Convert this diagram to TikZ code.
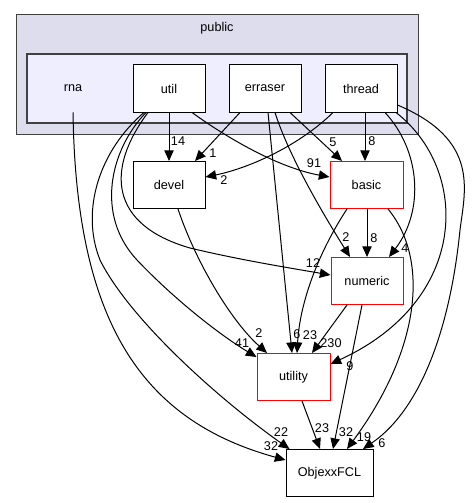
\documentclass[tikz,border=0pt]{standalone}
\usepackage{fontspec}
\setmainfont{Liberation Sans}
\usetikzlibrary{arrows.meta,calc}
\definecolor{outerfill}{HTML}{DDDDEE}
\definecolor{innerfill}{HTML}{EEEEFF}
\definecolor{clusterline}{HTML}{404040}
\tikzset{
  dirbox/.style={draw=black,fill=white,line width=0.75pt,minimum width=54pt,minimum height=35.25pt,inner sep=0pt,font=\fontsize{9.5}{11}\selectfont},
  redbox/.style={dirbox,draw=red},
  plainlbl/.style={inner sep=0pt,minimum height=35.25pt,font=\fontsize{9.5}{11}\selectfont},
  edge/.style={line width=0.75pt,-{Triangle[length=8pt,width=7pt]}},
  elbl/.style={inner sep=0pt,font=\fontsize{9.5}{10}\selectfont}
}
\begin{document}
\begin{tikzpicture}[x=0.75pt,y=-0.75pt]
\useasboundingbox[fill=white] (0,0) rectangle (473,503);
% clusters
\draw[clusterline,fill=outerfill,line width=0.75pt] (16,15) rectangle (418,134);
\node[font=\fontsize{9.5}{11}\selectfont] (publiclbl) at (217,28) {public};
\draw[clusterline,fill=innerfill,line width=1.3pt] (27,54) rectangle (407,123);
% nodes
\node[plainlbl] (rna) at (73,88.5) {rna};
\node[dirbox] (util) at (169,88.5) {util};
\node[dirbox] (erraser) at (265,88.5) {erraser};
\node[dirbox] (thread) at (361,88.5) {thread};
\node[dirbox] (devel) at (169,185) {devel};
\node[redbox,minimum width=54.75pt] (basic) at (366.5,185) {basic};
\node[redbox] (numeric) at (367,281) {numeric};
\node[redbox,minimum width=54.75pt] (utility) at (293.5,377) {utility};
\node[dirbox,minimum width=65.25pt] (ObjexxFCL) at (329.5,473) {ObjexxFCL};
% edges
\draw[edge] (rna.south) .. controls (76,320) and (140,420) .. ($(ObjexxFCL.west)+(0,-13)$);
\draw[edge] ($(util.south)+(-25,0)$) .. controls (100,150) and (80,210) .. (100,260) .. controls (130,320) and (220,400) .. ($(ObjexxFCL.north west)+(4,0)$);
\draw[edge] ($(util.south)+(-23,0)$) .. controls (110,150) and (95,215) .. (137,260) .. controls (175,300) and (220,335) .. ($(utility.north west)+(0,4)$);
\draw[edge] ($(util.south)+(-21,0)$) .. controls (105,170) and (110,225) .. (190,248) .. controls (240,260) and (290,268) .. ($(numeric.west)+(0,-6)$);
\draw[edge] (util.south) -- (devel.north);
\draw[edge] ($(util.south)+(23,0)$) .. controls (230,140) and (280,168) .. ($(basic.west)+(0,-8)$);
\draw[edge] ($(erraser.south)+(-25,0)$) -- ($(devel.north)+(26,0)$);
\draw[edge] ($(erraser.south)+(25,0)$) -- ($(basic.north)+(-24.5,0)$);
\draw[edge] ($(erraser.south)+(10,0)$) .. controls (290,160) and (330,225) .. ($(numeric.north)+(-17,0)$);
\draw[edge] ($(erraser.south)+(3,0)$) -- ($(utility.north)+(-1.5,0)$);
\draw[edge] ($(thread.south)+(-28,0)$) .. controls (300,145) and (250,168) .. ($(devel.east)+(0,-8)$);
\draw[edge] ($(thread.south)+(4,0)$) -- ($(basic.north)+(-1.5,0)$);
\draw[edge] ($(thread.south)+(24,0)$) .. controls (420,150) and (425,210) .. ($(numeric.north)+(22,0)$);
\draw[edge] ($(thread.south)+(35,0)$) .. controls (470,170) and (470,300) .. ($(utility.east)+(0,-13)$);
\draw[edge] ($(thread.east)+(0,16.5)$) .. controls (480,140) and (465,190) .. (460,230) .. controls (450,330) and (420,410) .. ($(ObjexxFCL.north)+(33.5,0)$);
\draw[edge] ($(basic.south)+(0.5,0)$) -- (numeric.north);
\draw[edge] ($(basic.south)+(-19.5,0)$) .. controls (320,250) and (300,300) .. ($(utility.north)+(3.5,0)$);
\draw[edge] ($(basic.south)+(21.5,0)$) .. controls (430,260) and (420,350) .. ($(ObjexxFCL.north)+(17.5,0)$);
\draw[edge] ($(numeric.south)+(-20,0)$) -- ($(utility.north)+(18.5,0)$);
\draw[edge] ($(numeric.south)+(-5,0)$) -- ($(ObjexxFCL.north)+(3.5,0)$);
\draw[edge] ($(utility.south)+(8.5,0)$) -- ($(ObjexxFCL.north)+(-9.5,0)$);
\draw[edge] ($(devel.south)+(9,0)$) .. controls (195,260) and (230,320) .. ($(utility.north)+(-26.5,0)$);
% edge labels
\node[elbl] (l1) at (271,446) {32};
\node[elbl] (l2) at (281,432) {22};
\node[elbl] (l3) at (242,343) {41};
\node[elbl] (l4) at (313,263) {12};
\node[elbl] (l5) at (178,141) {14};
\node[elbl] (l6) at (314,163) {91};
\node[elbl] (l7) at (213,153) {1};
\node[elbl] (l8) at (333,142) {5};
\node[elbl] (l9) at (346,237) {2};
\node[elbl] (l10) at (297,334) {6};
\node[elbl] (l11) at (224,180) {2};
\node[elbl] (l12) at (372,141) {8};
\node[elbl] (l13) at (405,248) {4};
\node[elbl] (l14) at (350,366) {9};
\node[elbl] (l15) at (382,443) {6};
\node[elbl] (l16) at (374,238) {8};
\node[elbl] (l17) at (310,335) {23};
\node[elbl] (l18) at (364,437) {19};
\node[elbl] (l19) at (331,343) {230};
\node[elbl] (l20) at (346,432) {32};
\node[elbl] (l21) at (322,428) {23};
\node[elbl] (l22) at (259,333) {2};
\end{tikzpicture}
\end{document}
